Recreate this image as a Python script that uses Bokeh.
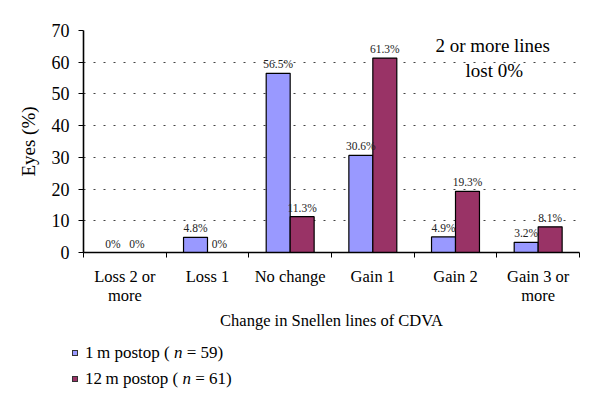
from bokeh.plotting import figure
from bokeh.models import ColumnDataSource, Range1d, FixedTicker, Label, Div
from bokeh.layouts import column
from bokeh.embed import file_html
from bokeh.resources import INLINE

categories = ["Loss 2 or\nmore", "Loss 1", "No change", "Gain 1", "Gain 2", "Gain 3 or\nmore"]
m1_values = [0, 4.8, 56.5, 30.6, 4.9, 3.2]
m12_values = [0, 0, 11.3, 61.3, 19.3, 8.1]
m1_labels = ["0%", "4.8%", "56.5%", "30.6%", "4.9%", "3.2%"]
m12_labels = ["0%", "0%", "11.3%", "61.3%", "19.3%", "8.1%"]
y_ticks = [0, 10, 20, 30, 40, 50, 60, 70]
series_names = [("1&thinsp;m postop (", " = 59)"), ("12&thinsp;m postop (", " = 61)")]

FONT = "Liberation Serif"
BLUE = "#9999FF"
PLUM = "#993366"
BW = 0.29

n = len(categories)
centers = [i + 0.5 for i in range(n)]

p = figure(width=600, height=336, frame_width=496, frame_height=222,
           output_backend="svg", toolbar_location=None,
           x_range=Range1d(0, n), y_range=Range1d(0, 70),
           min_border_left=83, min_border_right=21, min_border_top=30, min_border_bottom=84)
p.outline_line_color = None
p.background_fill_color = "white"

src1 = ColumnDataSource(dict(x=[c - BW / 2 for c in centers], top=m1_values, lab=m1_labels))
src2 = ColumnDataSource(dict(x=[c + BW / 2 for c in centers], top=m12_values, lab=m12_labels))

p.vbar(x="x", top="top", width=BW, source=src1, fill_color=BLUE, line_color="black", line_width=1.2)
p.vbar(x="x", top="top", width=BW, source=src2, fill_color=PLUM, line_color="black", line_width=1.2)

for s in (src1, src2):
    p.text(x="x", y="top", text="lab", source=s, text_align="center", text_baseline="bottom",
           y_offset=-3, text_font={"value": FONT}, text_font_size="11.5px", text_color="#222222")

# axes
xa = p.xaxis[0]
xa.ticker = FixedTicker(ticks=centers, minor_ticks=list(range(n + 1)))
xa.major_label_overrides = {c: lab for c, lab in zip(centers, categories)}
xa.major_tick_out = 0
xa.major_tick_in = 0
xa.minor_tick_out = 5
xa.minor_tick_in = 0
xa.major_label_standoff = 9
xa.major_label_text_line_height = 1.0
xa.axis_label = "Change in Snellen lines of CDVA"
xa.axis_label_standoff = 3
ya = p.yaxis[0]
ya.ticker = FixedTicker(ticks=y_ticks)
ya.major_tick_out = 5
ya.major_tick_in = 0
ya.minor_tick_out = 0
ya.minor_tick_in = 0
ya.major_label_standoff = 9
ya.axis_label = "Eyes (%)"
ya.axis_label_standoff = 10
for ax in (xa, ya):
    ax.axis_line_color = "black"
    ax.axis_line_width = 1.6
    ax.major_tick_line_color = "black"
    ax.minor_tick_line_color = "black"
    ax.major_label_text_font = FONT
    ax.major_label_text_color = "black"
    ax.axis_label_text_font = FONT
    ax.axis_label_text_font_style = "normal"
    ax.axis_label_text_color = "black"
xa.major_label_text_font_size = "16.5px"
ya.major_label_text_font_size = "18px"
xa.axis_label_text_font_size = "16.5px"
ya.axis_label_text_font_size = "19px"

p.xgrid.grid_line_color = None
p.ygrid.grid_line_color = "#444444"
p.ygrid.grid_line_dash = "2 8"
p.ygrid.grid_line_width = 1

# note
p.add_layout(Label(x=4.95, y=65.3, text="2 or more lines", text_align="center", text_baseline="middle",
                   text_font=FONT, text_font_size="19px", text_color="black"))
p.add_layout(Label(x=4.97, y=57.4, text="lost 0%", text_align="center", text_baseline="middle",
                   text_font=FONT, text_font_size="19px", text_color="black"))

# legend (HTML, with italic n)
colors = [BLUE, PLUM]
rows = []
for (pre, post), col, top in zip(series_names, colors, [7, 33]):
    rows.append(
        f'<div style="position:absolute;left:72px;top:{top}px;height:20px;line-height:20px;white-space:nowrap;">'
        f'<span style="display:inline-block;width:6px;height:6px;border:1px solid #333;background:{col};'
        f'margin-right:7px;vertical-align:middle;position:relative;top:-1px;"></span>'
        f'{pre} <i>n</i>{post}</div>'
    )
legend_html = (f'<div style="position:relative;width:600px;height:84px;font-family:\'{FONT}\';'
               f'font-size:17px;color:black;">' + "".join(rows) + '</div>')
div = Div(text=legend_html, width=600, height=84, margin=0)

layout = column(p, div, spacing=0)
open("out.html", "w").write(file_html(layout, INLINE))
